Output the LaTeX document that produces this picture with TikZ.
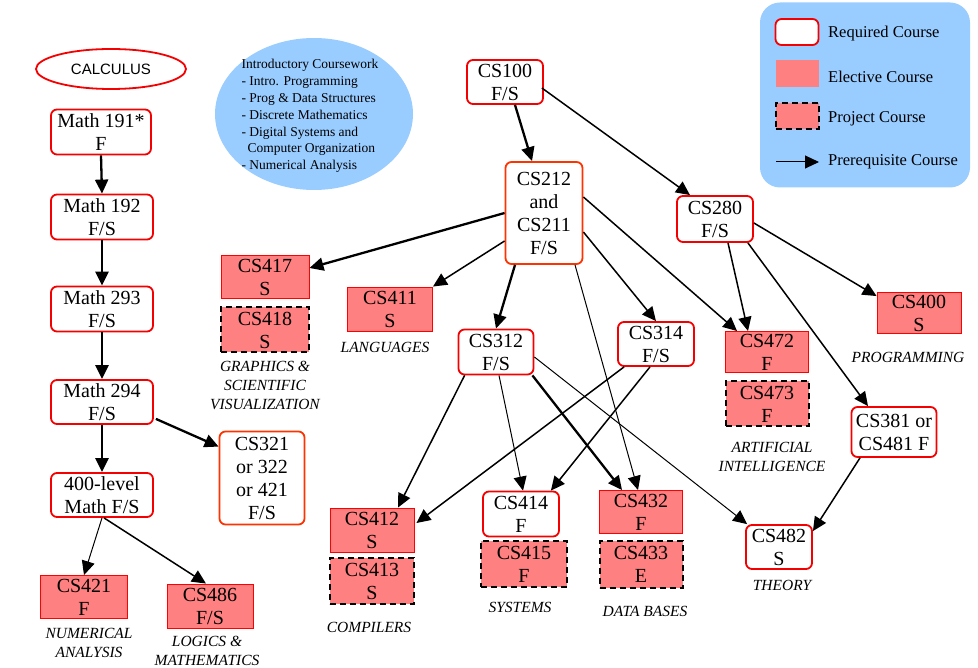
\documentclass[tikz,border=0pt]{standalone}
\usepackage{fontspec}
\setmainfont{Liberation Serif}
\newfontfamily\sansf{Liberation Sans}
\usetikzlibrary{arrows.meta,shapes.geometric,calc}
\definecolor{reqred}{RGB}{245,0,0}
\definecolor{orred}{RGB}{255,51,0}
\definecolor{elpink}{RGB}{255,128,128}
\definecolor{lblue}{RGB}{153,204,255}
\begin{document}
\begin{tikzpicture}[x=1pt,y=-1pt,
  box/.style={align=center,inner sep=0pt,font=\fontsize{20}{23}\selectfont},
  req/.style={box,draw=reqred,fill=white,line width=1.8pt,rounded corners=6pt},
  reqo/.style={req,draw=orred},
  elec/.style={box,draw=red,fill=elpink,line width=0.9pt},
  proj/.style={box,draw=black,fill=elpink,line width=2pt,dash pattern=on 6pt off 4pt},
  cat/.style={font=\fontsize{15.5}{19}\selectfont\itshape,align=center,inner sep=0pt},
  legtxt/.style={font=\fontsize{16.5}{18}\selectfont,anchor=west,inner sep=0pt},
  arrowtip/.style={-{Triangle[length=14pt,width=13pt]}},
  thk/.style={arrowtip,line width=2.3pt},
  med/.style={arrowtip,line width=1.5pt},
  thn/.style={arrowtip,line width=1pt},
]
\useasboundingbox (0,0) rectangle (978,668);

% legend
\node[fill=lblue,rounded corners=20pt,minimum width=210pt,minimum height=185pt,inner sep=0] (legend) at (865,95) {};
\node[req,minimum width=43pt,minimum height=26pt] (lreq) at (797,32) {};
\node[elec,draw=none,minimum width=43pt,minimum height=27pt] (lel) at (797,74) {};
\node[proj,minimum width=43pt,minimum height=26pt] (lpr) at (797,116) {};
\coordinate (la) at (776,162);
\coordinate (lb) at (819,162);
\draw[thn] (la) -- (lb);
\node[legtxt] (t1) at (828,34) {Required Course};
\node[legtxt] (t2) at (828,77) {Elective Course};
\node[legtxt] (t3) at (828,119) {Project Course};
\node[legtxt] (t4) at (828,162) {Prerequisite Course};

% intro ellipse
\node[ellipse,fill=lblue,minimum width=198pt,minimum height=152pt,inner sep=0] (intro) at (314,114) {};
\node[align=left,inner sep=0,font=\fontsize{13.5}{16.8}\selectfont] (introtxt) at (310,116)
 {Introductory Coursework\\- Intro. Programming\\- Prog \& Data Structures\\- Discrete Mathematics\\- Digital Systems and\\\hspace*{6pt}Computer Organization\\- Numerical Analysis};

% calculus column
\node[ellipse,draw=reqred,line width=1.8pt,fill=white,minimum width=150pt,minimum height=40pt,inner sep=0,font=\sansf\fontsize{15}{15}\selectfont] (calc) at (111,69) {CALCULUS};
\node[req,minimum width=100pt,minimum height=45pt] (m191) at (101,132) {Math 191*\\F};
\node[req,minimum width=102pt,minimum height=45pt] (m192) at (102,217) {Math 192\\F/S};
\node[req,minimum width=102pt,minimum height=45pt] (m293) at (102,309) {Math 293\\F/S};
\node[req,minimum width=102pt,minimum height=44pt] (m294) at (102,402) {Math 294\\F/S};
\node[req,minimum width=102pt,minimum height=44pt] (m400) at (102,495) {400-level\\Math F/S};
\node[reqo,minimum width=85pt,minimum height=93pt] (cs321) at (262,478) {CS321\\or 322\\or 421\\F/S};
\node[elec,minimum width=87pt,minimum height=43pt] (cs421) at (84,597) {CS421\\F};
\node[elec,minimum width=86pt,minimum height=44pt] (cs486) at (210,606) {CS486\\F/S};
\node[cat] (lnum) at (89,643) {NUMERICAL\\ANALYSIS};
\node[cat] (llog) at (207,651) {LOGICS \&\\MATHEMATICS};

% CS core
\node[req,minimum width=76pt,minimum height=44pt] (cs100) at (505,82) {CS100\\F/S};
\node[reqo,minimum width=77pt,minimum height=102pt] (cs212) at (544,213) {CS212\\and\\CS211\\F/S};
\node[req,minimum width=76pt,minimum height=46pt] (cs280) at (715,219) {CS280\\F/S};

\node[elec,minimum width=88pt,minimum height=43pt] (cs417) at (265,277) {CS417\\S};
\node[proj,minimum width=88pt,minimum height=45pt] (cs418) at (265,330) {CS418\\S};
\node[cat] (lgra) at (265,385) {GRAPHICS \&\\SCIENTIFIC\\VISUALIZATION};
\node[elec,minimum width=85pt,minimum height=44pt] (cs411) at (390,309) {CS411\\S};
\node[cat] (llan) at (385,347) {LANGUAGES};

\node[req,minimum width=75pt,minimum height=45pt] (cs312) at (496,352) {CS312\\F/S};
\node[req,minimum width=76pt,minimum height=44pt] (cs314) at (656,344) {CS314\\F/S};

\node[elec,minimum width=84pt,minimum height=44pt] (cs412) at (372,530) {CS412\\S};
\node[proj,minimum width=84pt,minimum height=46pt] (cs413) at (372,581) {CS413\\S};
\node[cat] (lcom) at (369,627) {COMPILERS};
\node[req,minimum width=76pt,minimum height=45pt] (cs414) at (521,514) {CS414\\F};
\node[proj,minimum width=86pt,minimum height=46pt] (cs415) at (524,564) {CS415\\F};
\node[cat] (lsys) at (520,607) {SYSTEMS};
\node[elec,minimum width=83pt,minimum height=43pt] (cs432) at (641,512) {CS432\\F};
\node[proj,minimum width=83pt,minimum height=47pt] (cs433) at (641,564) {CS433\\E};
\node[cat] (ldat) at (645,611) {DATA BASES};

\node[elec,minimum width=84pt,minimum height=41pt] (cs400) at (919,313) {CS400\\S};
\node[cat] (lpro) at (908,357) {PROGRAMMING};
\node[elec,minimum width=83pt,minimum height=41pt] (cs472) at (767,352) {CS472\\F};
\node[proj,minimum width=83pt,minimum height=45pt] (cs473) at (767,404) {CS473\\F};
\node[cat] (lart) at (772,457) {ARTIFICIAL\\INTELLIGENCE};
\node[req,minimum width=85pt,minimum height=50pt] (cs381) at (894,432) {CS381 or\\CS481 F};
\node[req,minimum width=66pt,minimum height=44pt] (cs482) at (779,547) {CS482\\S};
\node[cat] (lthe) at (782,585) {THEORY};

% connectors
\draw[thk] (m191.south) -- (m192.north);
\draw[thk] (m192.south) -- (m293.north);
\draw[thk] (m293.south) -- (m294.north);
\draw[thk] (m294.south) -- (m400.north);
\draw[thk] ($(m294.south east)+(2,-6)$) -- ($(cs321.north west)+(0,16)$);
\draw[thn] (m400.south) -- (cs421.north);
\draw[med] ($(m400.south)+(2,0)$) -- ($(cs486.north)+(-4,0)$);

\draw[thk] ($(cs100.south)+(10,0)$) -- ($(cs212.north)+(-12,0)$);
\draw[med] ($(cs100.east)+(-2,6)$) -- ($(cs280.north)+(-25,0)$);
\draw[thk] (cs212.west) -- ($(cs417.east)+(0,-9)$);
\draw[med] ($(cs212.west)+(0,28)$) -- (cs411.north east);
\draw[thk] ($(cs212.south)+(-29,0)$) -- (cs312.north);
\draw[med] ($(cs212.east)+(0,19)$) -- (cs314.north);
\draw[med] ($(cs212.east)+(0,-16)$) -- ($(cs472.north west)+(12,0)$);
\draw[thn] ($(cs212.south)+(31,0)$) -- ($(cs432.north)+(-3,0)$);

\draw[med] ($(cs280.south)+(13,0)$) -- ($(cs472.north)+(-19,0)$);
\draw[med] ($(cs280.east)+(0,4)$) -- ($(cs400.north west)+(0,4)$);
\draw[med] ($(cs280.south east)+(-6,0)$) -- ($(cs381.north)+(-26,0)$);
\draw[med] ($(cs381.south)+(-34,0)$) -- ($(cs482.north east)+(0,7)$);

\draw[med] ($(cs312.south west)+(7,0)$) -- ($(cs412.north)+(26,0)$);
\draw[thn] ($(cs312.south)+(3,0)$) -- ($(cs414.north)+(2,0)$);
\draw[thk] ($(cs312.south east)+(-2,0)$) -- ($(cs432.north west)+(23,0)$);
\draw[thn] ($(cs312.east)+(0,5)$) -- ($(cs482.north west)+(2,0)$);
\draw[med] ($(cs314.south west)+(7,0)$) -- ($(cs412.east)+(2,-7)$);
\draw[med] ($(cs314.south)+(-6,0)$) -- ($(cs414.north east)+(-9,0)$);
\end{tikzpicture}
\end{document}
